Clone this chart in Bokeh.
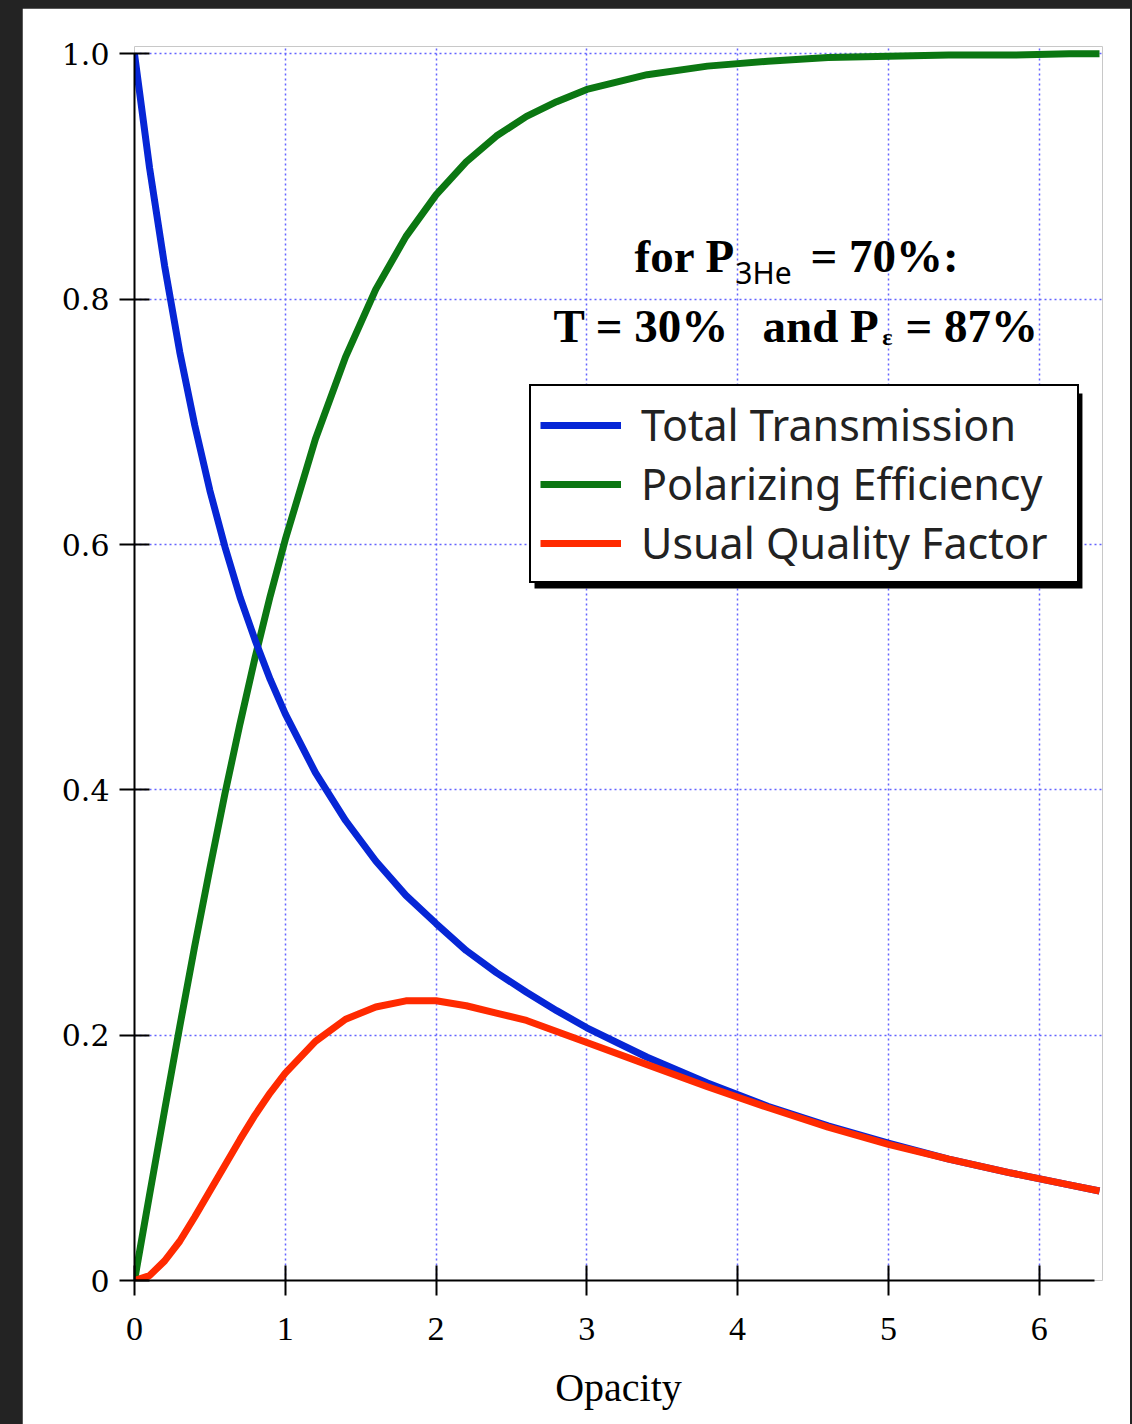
from bokeh.plotting import figure
from bokeh.models import FixedTicker, Label, Range1d, Spacer, BoxAnnotation
from bokeh.layouts import row, column
from bokeh.embed import file_html
from bokeh.resources import INLINE

# ---- data ----
opacity = [0.0, 0.1, 0.2, 0.3, 0.4, 0.5, 0.6, 0.7, 0.8, 0.9, 1.0,
           1.2, 1.4, 1.6, 1.8, 2.0, 2.2, 2.4, 2.6, 2.8, 3.0,
           3.4, 3.8, 4.2, 4.6, 5.0, 5.4, 5.8, 6.2, 6.4]
total_transmission = [1.000, 0.907, 0.827, 0.757, 0.697, 0.644, 0.598, 0.557, 0.522, 0.490, 0.462,
                      0.414, 0.375, 0.342, 0.314, 0.291, 0.269, 0.251, 0.235, 0.220, 0.206,
                      0.182, 0.161, 0.142, 0.126, 0.112, 0.099, 0.088, 0.078, 0.073]
polarizing_efficiency = [0.000, 0.070, 0.139, 0.207, 0.273, 0.336, 0.397, 0.454, 0.508, 0.558, 0.604,
                         0.686, 0.753, 0.808, 0.851, 0.885, 0.912, 0.933, 0.949, 0.961, 0.971,
                         0.983, 0.990, 0.994, 0.997, 0.998, 0.999, 0.999, 1.000, 1.000]
quality_factor = [0.000, 0.004, 0.016, 0.032, 0.052, 0.073, 0.094, 0.115, 0.135, 0.153, 0.169,
                  0.195, 0.213, 0.223, 0.228, 0.228, 0.224, 0.218, 0.212, 0.203, 0.194,
                  0.176, 0.158, 0.141, 0.125, 0.111, 0.099, 0.088, 0.078, 0.073]

x_ticks = [0, 1, 2, 3, 4, 5, 6]
y_ticks = [0.0, 0.2, 0.4, 0.6, 0.8, 1.0]
y_tick_labels = ["0", "0.2", "0.4", "0.6", "0.8", "1.0"]
x_tick_labels = ["0", "1", "2", "3", "4", "5", "6"]

series_names = ["Total Transmission", "Polarizing Efficiency", "Usual Quality Factor"]
series_colors = ["#0626d6", "#0b7712", "#ff2a00"]

# ---- figure ----
p = figure(width=1108, height=1416, output_backend="svg", toolbar_location=None,
           x_range=Range1d(0, 6.42), y_range=Range1d(0, 1.006),
           min_border_left=112, min_border_right=28, min_border_top=38, min_border_bottom=144)
p.background_fill_color = "white"
p.border_fill_color = "white"
p.outline_line_color = None

# grid
p.xgrid.ticker = FixedTicker(ticks=x_ticks[1:])
p.ygrid.ticker = FixedTicker(ticks=y_ticks[1:])
for g in (p.xgrid, p.ygrid):
    g.grid_line_color = "#6464ff"
    g.grid_line_alpha = 1.0
    g.grid_line_dash = "2 3"
    g.grid_line_width = 1.5

# axes
p.xaxis.ticker = FixedTicker(ticks=x_ticks)
p.yaxis.ticker = FixedTicker(ticks=y_ticks)
p.xaxis.major_label_overrides = {t: s for t, s in zip(x_ticks, x_tick_labels)}
p.yaxis.major_label_overrides = {t: s for t, s in zip(y_ticks, y_tick_labels)}
p.yaxis.bounds = (0, 1)
p.xaxis.bounds = (0, 6.37)
for ax in (p.xaxis, p.yaxis):
    ax.axis_line_color = "black"
    ax.axis_line_width = 2
    ax.major_tick_line_color = "black"
    ax.major_tick_line_width = 2
    ax.major_tick_in = 15
    ax.major_tick_out = 15
    ax.minor_tick_line_color = None
    ax.major_label_text_color = "black"
p.xaxis.major_label_text_font = "Liberation Serif"
p.xaxis.major_label_text_font_size = "34px"
p.yaxis.major_label_text_font = "DejaVu Serif"
p.yaxis.major_label_text_font_size = "30px"
p.yaxis.major_label_standoff = 10
p.xaxis.major_label_standoff = 22
p.xaxis.axis_label = "Opacity"
p.xaxis.axis_label_text_font = "Liberation Serif"
p.xaxis.axis_label_text_font_size = "40px"
p.xaxis.axis_label_text_font_style = "normal"
p.xaxis.axis_label_text_color = "black"
p.xaxis.axis_label_standoff = 22

# legend drop shadow (decoration)
p.add_layout(BoxAnnotation(left=2.653, right=6.287, top=0.7231, bottom=0.5642,
                           fill_color="black", fill_alpha=1.0, line_color=None, level="underlay"))

# curves (green, blue, red drawing order)
p.line(opacity, polarizing_efficiency, color=series_colors[1], line_width=7, legend_label=series_names[1])
p.line(opacity, total_transmission, color=series_colors[0], line_width=7, legend_label=series_names[0])
p.line(opacity, quality_factor, color=series_colors[2], line_width=7, legend_label=series_names[2])

# legend ordering: blue, green, red
leg = p.legend[0]
items = {it.label.value: it for it in leg.items}
leg.items = [items[n] for n in series_names]
leg.location = (395, 697)
leg.margin = 0
leg.padding = 9
leg.spacing = 0
leg.glyph_width = 81
leg.glyph_height = 50
leg.label_height = 50
leg.label_width = 427
leg.label_standoff = 20
leg.label_text_font = "Noto Sans"
leg.label_text_font_size = "43px"
leg.label_text_color = "#222222"
leg.border_line_color = "black"
leg.border_line_alpha = 1.0
leg.border_line_width = 2.5
leg.background_fill_color = "white"
leg.background_fill_alpha = 1.0

# annotation text
serif_bold = dict(text_font="Liberation Serif", text_font_style="bold", text_color="black",
                  text_baseline="alphabetic", text_align="left")
dy = 0.0135
p.add_layout(Label(x=3.316, y=0.8215 + dy, text="for P", text_font_size="47px", **serif_bold))
p.add_layout(Label(x=3.985, y=0.8085 + dy, text="3He", text_font="Noto Sans", text_font_size="30px",
                   text_color="black", text_baseline="alphabetic", text_align="left"))
p.add_layout(Label(x=4.483, y=0.8215 + dy, text="= 70%:", text_font_size="47px", **serif_bold))
p.add_layout(Label(x=2.779, y=0.7645 + dy, text="T = 30%", text_font_size="47px", **serif_bold))
p.add_layout(Label(x=4.165, y=0.7645 + dy, text="and P", text_font_size="47px", **serif_bold))
p.add_layout(Label(x=4.960, y=0.7555 + dy, text="ε", text_font_size="24px", **serif_bold))
p.add_layout(Label(x=5.113, y=0.7645 + dy, text="= 87%", text_font_size="47px", **serif_bold))

layout = column(Spacer(width=1132, height=8),
                row(Spacer(width=22, height=1416), p))

html = file_html(layout, INLINE)
html = html.replace("</head>", "<style>html, body { background-color: #232323 !important; }</style></head>", 1)
open("out.html", "w").write(html)
